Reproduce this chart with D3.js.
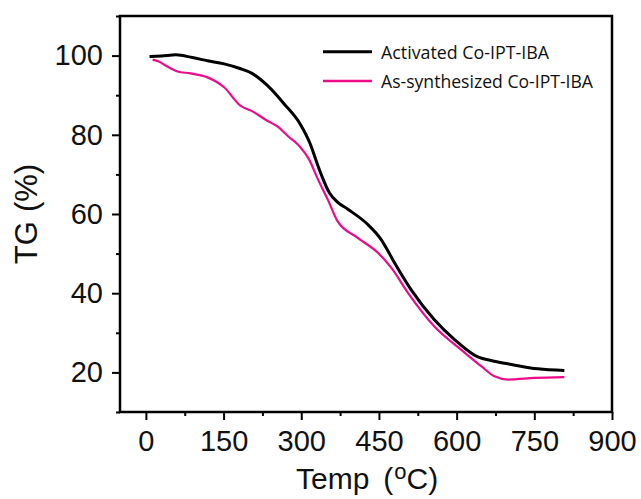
<!DOCTYPE html>
<html>
<head>
<meta charset="utf-8">
<script src="https://cdn.jsdelivr.net/npm/d3@7"></script>
<style>
  body { margin: 0; background: #fff; }
  svg { display: block; }
</style>
</head>
<body>
<div id="chart"></div>
<script>
// series: [temp (C), TG (%)]
const activated = [
  [7, 99.8], [30, 99.9], [58, 100.2], [90, 99.5], [119, 98.7], [151, 97.9],
  [180, 96.8], [205, 95.5], [235, 92.4], [267, 87.8], [299, 82.5], [317, 77.8],
  [330, 73], [340, 69.5], [354, 65.4], [370, 63], [390, 61.2], [428, 57.4],
  [454, 53.6], [480, 47.7], [512, 40.9], [557, 33.3], [596, 28.3], [641, 23.9],
  [670, 22.9], [706, 22.0], [757, 20.9], [808, 20.5]
];
const asSynth = [
  [13, 99], [25, 98.5], [38, 97.5], [61, 96], [86, 95.5], [119, 94.5],
  [151, 92], [183, 87.3], [203, 86.1], [235, 83.5], [254, 82.1], [274, 79.7],
  [296, 77.2], [315, 73.8], [332, 68.8], [351, 63.7], [370, 58.2], [409, 54.0],
  [448, 50.2], [474, 46.4], [506, 40.1], [557, 31.6], [609, 25.7], [648, 21.5],
  [673, 19.0], [699, 18.2], [751, 18.6], [808, 18.8]
];
const seriesNames = ["Activated Co-IPT-IBA", "As-synthesized Co-IPT-IBA"];
const xTicks = [0, 150, 300, 450, 600, 750, 900];
const yTicks = [20, 40, 60, 80, 100];

const W = 641, H = 499;
const margin = {left: 120, right: 29, top: 16, bottom: 87};
const width = W - margin.left - margin.right,
      height = H - margin.top - margin.bottom;

let svg = d3.select("#chart").append("svg")
            .attr("width", W).attr("height", H);
let g = svg.append("g")
           .attr("transform", "translate(" + margin.left + "," + margin.top + ")");

let x = d3.scaleLinear().domain([-50, 900]).range([0, width]);
let y = d3.scaleLinear().domain([10, 110]).range([height, 0]);

const font = "'Liberation Sans', Arial, sans-serif";

// minor ticks (between majors)
let xMinor = d3.range(-75, 901, 75).filter(v => v % 150 !== 0 && v >= -50);
let yMinor = d3.range(10, 111, 10).filter(v => v % 20 !== 0);

g.append("g")
 .attr("transform", "translate(0," + height + ")")
 .call(d3.axisBottom(x).tickValues(xMinor).tickSize(4).tickFormat(""))
 .call(a => a.select(".domain").remove())
 .selectAll("line").attr("stroke-width", 2);

g.append("g")
 .call(d3.axisLeft(y).tickValues(yMinor).tickSize(4).tickFormat(""))
 .call(a => a.select(".domain").remove())
 .selectAll("line").attr("stroke-width", 2);

let xAxis = g.append("g")
 .attr("transform", "translate(0," + height + ")")
 .call(d3.axisBottom(x).tickValues(xTicks).tickSize(8).tickPadding(10).tickSizeOuter(0));
xAxis.select(".domain").remove();
xAxis.selectAll("line").attr("stroke-width", 2);
xAxis.selectAll("text").style("font-family", font).style("font-size", "29px").attr("fill", "#111");

let yAxis = g.append("g")
 .call(d3.axisLeft(y).tickValues(yTicks).tickSize(8).tickPadding(9).tickSizeOuter(0));
yAxis.select(".domain").remove();
yAxis.selectAll("line").attr("stroke-width", 2);
yAxis.selectAll("text").style("font-family", font).style("font-size", "29px").attr("fill", "#111");

// frame
g.append("rect")
 .attr("x", 0).attr("y", 0)
 .attr("width", width).attr("height", height)
 .attr("fill", "none").attr("stroke", "#000").attr("stroke-width", 2.5);

let line = d3.line()
  .x(d => x(d[0]))
  .y(d => y(d[1]))
  .curve(d3.curveMonotoneX);

g.append("path").datum(asSynth)
 .attr("d", line).attr("fill", "none")
 .attr("stroke", "#ee0a8a").attr("stroke-width", 2.2);

g.append("path").datum(activated)
 .attr("d", line).attr("fill", "none")
 .attr("stroke", "#000").attr("stroke-width", 3);

// legend
const legColors = ["#000", "#ee0a8a"];
const legWidths = [3, 2.5];
const legTextLen = [168, 212];
let leg = svg.append("g");
seriesNames.forEach((name, i) => {
  let yy = 51.7 + i * 29.3;
  leg.append("line")
     .attr("x1", 323).attr("x2", 372)
     .attr("y1", yy).attr("y2", yy)
     .attr("stroke", legColors[i]).attr("stroke-width", legWidths[i]);
  leg.append("text")
     .attr("x", 381).attr("y", yy + 6.8)
     .attr("textLength", legTextLen[i])
     .attr("lengthAdjust", "spacingAndGlyphs")
     .style("font-family", "'Open Sans', 'Noto Sans', sans-serif")
     .style("font-size", "18px")
     .attr("fill", "#111")
     .text(name);
});

// axis titles
let yt = svg.append("text")
   .attr("transform", "translate(37,214) rotate(-90)")
   .attr("text-anchor", "middle")
   .style("font-family", font).style("font-size", "31px")
   .attr("fill", "#111");
yt.append("tspan").text("TG");
yt.append("tspan").attr("dx", 9).text("(%)");

let xt = svg.append("text")
   .attr("x", 296).attr("y", 489)
   .style("font-family", font).style("font-size", "30px")
   .attr("fill", "#111");
xt.append("tspan").text("Temp");
xt.append("tspan").attr("dx", 14).text("(");
xt.append("tspan").attr("dy", -10).attr("dx", 1).style("font-size", "22px").text("o");
xt.append("tspan").attr("dy", 10).text("C)");
</script>
</body>
</html>
